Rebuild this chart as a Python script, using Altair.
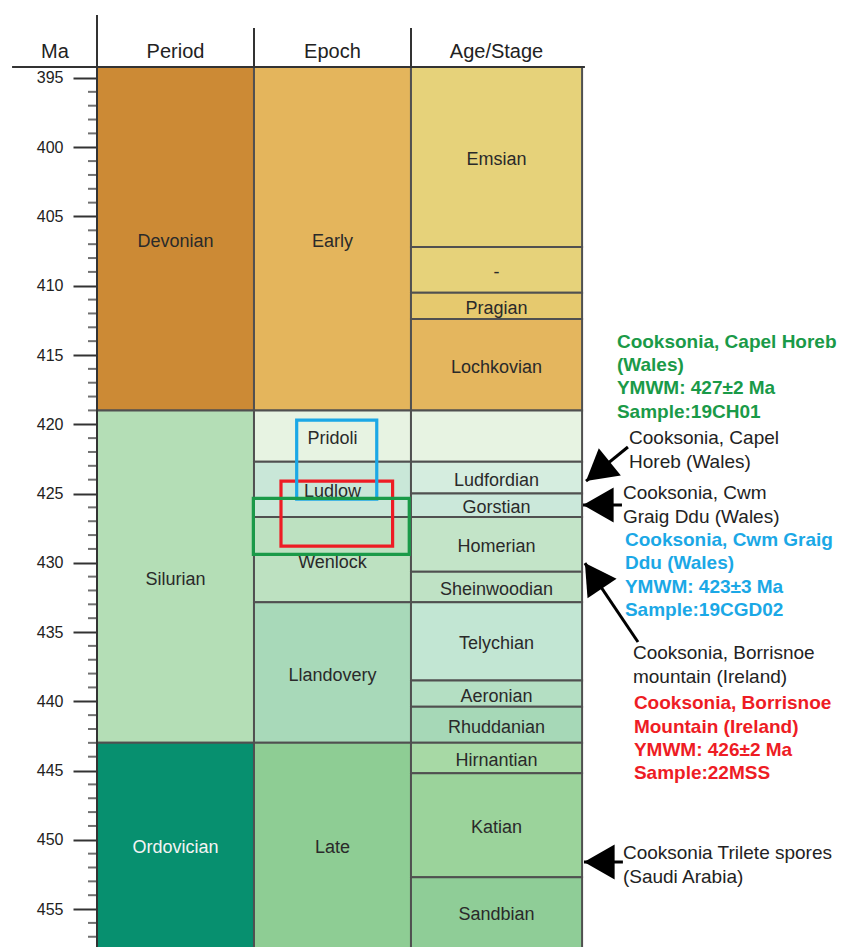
import altair as alt
import pandas as pd

# ---------------- scale extents (Ma at top / bottom edge of canvas) -------------
MA_TOP = 389.37
MA_BOTTOM = 457.74
HEADER_MA = 394.21      # Ma position of header line
HEADER_TEXT_MA = 392.98
X_MAX = 4.752           # column units visible to the right of the axis

# ---------------- stratigraphic data -------------
period_names = ["Devonian", "Silurian", "Ordovician"]
period_bounds = [394.21, 419.0, 443.0, 458.5]
period_colors = ["#CC8A35", "#B4DEB6", "#07906F"]
period_text = ["#2a2a2a", "#2a2a2a", "#f4f4f4"]

epoch_names = ["Early", "Pridoli", "Ludlow", "Wenlock", "Llandovery", "Late"]
epoch_bounds = [394.21, 419.0, 422.7, 426.7, 432.85, 443.0, 458.5]
epoch_colors = ["#E4B55C", "#E7F3E2", "#C9E7D8", "#BDE1C1", "#A8D9B9", "#8ECD94"]

stage_names = ["Emsian", "-", "Pragian", "Lochkovian", "", "Ludfordian", "Gorstian",
               "Homerian", "Sheinwoodian", "Telychian", "Aeronian", "Rhuddanian",
               "Hirnantian", "Katian", "Sandbian"]
stage_bounds = [394.21, 407.2, 410.5, 412.4, 419.0, 422.7, 425.0, 426.7, 430.65,
                432.85, 438.5, 440.4, 443.0, 445.2, 452.7, 458.5]
stage_colors = ["#E6D27A", "#E6D27A", "#E6C96E", "#E4B65E", "#E7F3E2", "#D5EDDF",
                "#CBE8DA", "#C3E4C8", "#BFE2C5", "#C2E6D3", "#B4DFC3", "#A6D8B7",
                "#A7D9A5", "#9BD39B", "#8FCD97"]

col_edges = [0, 1, 2, 3.09]
headers = ["Ma", "Period", "Epoch", "Age/Stage"]
header_x = [-0.2675, 0.5, 1.5, 2.545]

major_ticks = list(range(395, 460, 5))
minor_ticks = [v for v in range(395, 458) if v % 5 != 0]

# ---------------- sample age boxes -------------
box_colors = ["#EE1C24", "#1BA8E6", "#1A9A48"]
box_x0 = [1.172, 1.272, 0.996]
box_x1 = [1.883, 1.782, 1.989]
box_top = [424.1, 419.7, 425.35]
box_bottom = [428.8, 425.4, 429.4]

# ---------------- annotations -------------
note_lines = [
    ["Cooksonia, Capel Horeb", "(Wales)", "YMWM: 427±2 Ma", "Sample:19CH01"],
    ["Cooksonia, Capel", "Horeb (Wales)"],
    ["Cooksonia, Cwm", "Graig Ddu (Wales)"],
    ["Cooksonia, Cwm Graig", "Ddu (Wales)", "YMWM: 423±3 Ma", "Sample:19CGD02"],
    ["Cooksonia, Borrisnoe", "mountain (Ireland)"],
    ["Cooksonia, Borrisnoe", "Mountain (Ireland)", "YMWM: 426±2 Ma", "Sample:22MSS"],
    ["Cooksonia Trilete spores", "(Saudi Arabia)"],
]
note_colors = ["#1A9A48", "#222222", "#222222", "#1BA8E6", "#222222", "#EE1C24", "#222222"]
note_bold = [True, False, False, True, False, True, False]
note_x = [3.312, 3.389, 3.350, 3.363, 3.414, 3.420, 3.350]
note_y = [414.04, 421.01, 424.99, 428.36, 436.54, 440.15, 450.98]
LINE_STEP = 1.68  # Ma per text line

# ---------------- arrows -------------
arrow_tip_x = [3.115, 3.096, 3.108, 3.102]
arrow_tip_y = [424.10, 425.83, 430.02, 451.61]
arrow_tail_x = [3.382, 3.344, 3.446, 3.350]
arrow_tail_y = [421.64, 425.83, 435.72, 451.61]
arrow_angle = [321, 0, 56, 0]

# ---------------- build tables -------------
rows = []
def add_col(ci, names, bounds, colors, textc=None):
    for i, n in enumerate(names):
        top, bot = bounds[i], bounds[i + 1]
        vis_bot = min(bot, MA_BOTTOM)
        rows.append(dict(x0=col_edges[ci], x1=col_edges[ci + 1],
                         xc=(col_edges[ci] + col_edges[ci + 1]) / 2,
                         top=top, bottom=bot, yc=(top + vis_bot) / 2,
                         name=n, fill=colors[i],
                         tc=(textc[i] if textc else "#2a2a2a")))

add_col(0, period_names, period_bounds, period_colors, period_text)
add_col(1, epoch_names, epoch_bounds, epoch_colors)
add_col(2, stage_names, stage_bounds, stage_colors)
cells = pd.DataFrame(rows)

hdr = pd.DataFrame(dict(name=headers, x=header_x, y=[HEADER_TEXT_MA] * 4))

frame_lines = pd.DataFrame(dict(
    x=[-0.541, 0, 1, 2],
    x2=[3.108, 0, 1, 2],
    y=[HEADER_MA, 390.45, 391.39, 391.39],
    y2=[HEADER_MA, 458.5, HEADER_MA, HEADER_MA],
))

boxes = pd.DataFrame(dict(c=box_colors, x0=box_x0, x1=box_x1, top=box_top, bottom=box_bottom))

nrows = []
for i, lines in enumerate(note_lines):
    for j, t in enumerate(lines):
        nrows.append(dict(t=t, c=note_colors[i], bold=note_bold[i], x=note_x[i],
                          y=note_y[i] + j * LINE_STEP))
notes = pd.DataFrame(nrows)

arrows = pd.DataFrame(dict(x=arrow_tip_x, y=arrow_tip_y, x2=arrow_tail_x,
                           y2=arrow_tail_y, a=arrow_angle))

minor_df = pd.DataFrame(dict(v=minor_ticks))

# ---------------- scales / axis -------------
FONT = "Liberation Sans"
xs = alt.Scale(domain=[0, X_MAX], nice=False, zero=False)
ys = alt.Scale(domain=[MA_TOP, MA_BOTTOM], reverse=True, nice=False, zero=False)
yaxis = alt.Axis(values=major_ticks, tickSize=24, tickWidth=2, tickColor="#333333",
                 domain=False, grid=False, title=None, labelOverlap=False,
                 labelFont=FONT, labelFontSize=16, labelColor="#222222",
                 labelPadding=10)


def Y(field):
    return alt.Y(field, scale=ys, axis=yaxis)


def X(field):
    return alt.X(field, scale=xs, axis=None)


rect_layer = alt.Chart(cells).mark_rect(stroke="#505050", strokeWidth=2).encode(
    x=X("x0:Q"), x2="x1:Q", y=Y("top:Q"), y2="bottom:Q",
    fill=alt.Fill("fill:N", scale=None),
)

# minor ticks on the same y scale
minor_layer = alt.Chart(minor_df).mark_tick(
    color="#333333", thickness=2, size=9, orient="horizontal", xOffset=-4.5).encode(
    y=Y("v:Q"), x=alt.value(0))

cell_text = alt.Chart(cells).mark_text(font=FONT, fontSize=18, align="center",
                                       baseline="middle", dy=3).encode(
    x=X("xc:Q"), y=Y("yc:Q"), text="name:N",
    color=alt.Color("tc:N", scale=None))

frame = alt.Chart(frame_lines).mark_rule(color="#333333", strokeWidth=2).encode(
    x=X("x:Q"), x2="x2:Q", y=Y("y:Q"), y2="y2:Q")

hdr_text = alt.Chart(hdr).mark_text(font=FONT, fontSize=20, align="center",
                                    baseline="middle", color="#222222", dy=2).encode(
    x=X("x:Q"), y=Y("y:Q"), text="name:N")

box_layer = alt.Chart(boxes).mark_rect(fillOpacity=0, strokeWidth=3.2).encode(
    x=X("x0:Q"), x2="x1:Q", y=Y("top:Q"), y2="bottom:Q",
    stroke=alt.Stroke("c:N", scale=None))

notes_bold = alt.Chart(notes).transform_filter("datum.bold").mark_text(
    font=FONT, fontSize=19, fontWeight="bold", align="left", baseline="middle").encode(
    x=X("x:Q"), y=Y("y:Q"), text="t:N",
    color=alt.Color("c:N", scale=None))

notes_plain = alt.Chart(notes).transform_filter("!datum.bold").mark_text(
    font=FONT, fontSize=19, align="left", baseline="middle").encode(
    x=X("x:Q"), y=Y("y:Q"), text="t:N",
    color=alt.Color("c:N", scale=None))

shafts = alt.Chart(arrows).mark_rule(color="black", strokeWidth=3).encode(
    x=X("x:Q"), x2="x2:Q", y=Y("y:Q"), y2="y2:Q")

heads = alt.Chart(arrows).mark_point(
    shape="M0,0 L1.75,-1 L1.75,1 Z", size=1225, filled=True, color="black",
    opacity=1, strokeWidth=0).encode(
    x=X("x:Q"), y=Y("y:Q"),
    angle=alt.Angle("a:Q", scale=None))

chart = alt.layer(rect_layer, minor_layer, cell_text, frame, hdr_text, box_layer,
                  notes_bold, notes_plain, shafts, heads).properties(
    width=746, height=947,
    padding={"left": 97, "top": 0, "right": 0, "bottom": 0},
    autosize=alt.AutoSizeParams(type="none"),
    background="white",
).configure_view(stroke=None)

chart.save("out.html", embed_options={"renderer": "svg", "actions": False})
